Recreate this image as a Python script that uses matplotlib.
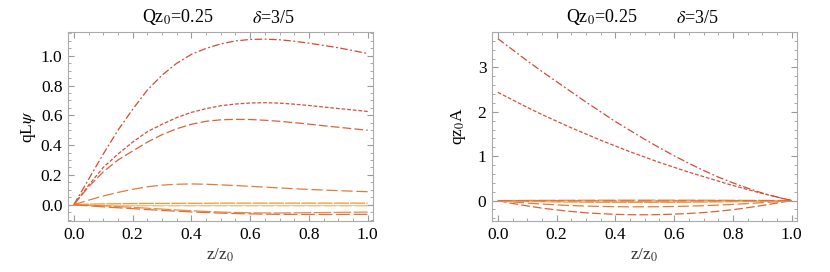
import numpy as np
import matplotlib.pyplot as plt
from matplotlib.ticker import MultipleLocator

plt.rcParams['font.family'] = ['Liberation Serif', 'DejaVu Serif']
plt.rcParams['mathtext.fontset'] = 'stix'

# sample points along z/z0
z = [0.0, 0.05, 0.1, 0.15, 0.2, 0.25, 0.3, 0.35, 0.4, 0.45, 0.5,
     0.55, 0.6, 0.65, 0.7, 0.75, 0.8, 0.85, 0.9, 0.95, 1.0]

# left panel: q L psi
psi_1 = [0.0, 0.17, 0.34, 0.50, 0.64, 0.77, 0.87, 0.95, 1.01, 1.05, 1.08,
         1.1, 1.11, 1.112, 1.108, 1.098, 1.085, 1.07, 1.054, 1.035, 1.015]
psi_2 = [0.0, 0.13, 0.25, 0.34, 0.42, 0.49, 0.54, 0.585, 0.62, 0.645, 0.665,
         0.676, 0.683, 0.685, 0.682, 0.675, 0.666, 0.656, 0.646, 0.636, 0.626]
psi_3 = [0.0, 0.12, 0.22, 0.30, 0.36, 0.42, 0.47, 0.51, 0.54, 0.56, 0.57,
         0.573, 0.572, 0.567, 0.56, 0.551, 0.541, 0.53, 0.52, 0.51, 0.50]
psi_4 = [0.0, 0.03, 0.058, 0.082, 0.103, 0.12, 0.131, 0.137, 0.139, 0.137, 0.133,
         0.128, 0.123, 0.118, 0.112, 0.107, 0.102, 0.098, 0.094, 0.09, 0.087]
psi_5 = [0.0, 0.003, 0.005, 0.006, 0.007, 0.008, 0.008, 0.009, 0.009, 0.009, 0.01,
         0.01, 0.01, 0.01, 0.01, 0.01, 0.01, 0.01, 0.01, 0.01, 0.01]
psi_6 = [0.0, -0.003, -0.005, -0.006, -0.007, -0.008, -0.008, -0.008, -0.008, -0.008, -0.008,
         -0.008, -0.008, -0.008, -0.008, -0.008, -0.008, -0.008, -0.008, -0.008, -0.008]
psi_7 = [0.0, -0.004, -0.008, -0.013, -0.018, -0.024, -0.03, -0.036, -0.041, -0.046, -0.05,
         -0.053, -0.055, -0.056, -0.056, -0.055, -0.054, -0.053, -0.052, -0.051, -0.05]
psi_8 = [0.0, -0.008, -0.015, -0.021, -0.027, -0.033, -0.039, -0.044, -0.049, -0.053, -0.057,
         -0.06, -0.062, -0.064, -0.065, -0.066, -0.066, -0.066, -0.066, -0.065, -0.065]
psi_all = [psi_1, psi_2, psi_3, psi_4, psi_5, psi_6, psi_7, psi_8]

# right panel: q z0 A
A_1 = [3.65, 3.40, 3.15, 2.91, 2.68, 2.45, 2.22, 2.00, 1.78, 1.58, 1.38,
       1.19, 1.01, 0.84, 0.68, 0.53, 0.40, 0.28, 0.17, 0.08, 0.0]
A_2 = [2.44, 2.27, 2.10, 1.94, 1.79, 1.64, 1.50, 1.36, 1.23, 1.10, 0.98,
       0.86, 0.75, 0.64, 0.54, 0.44, 0.34, 0.25, 0.16, 0.08, 0.0]
A_3 = [0.0, -0.065, -0.12, -0.17, -0.21, -0.245, -0.275, -0.295, -0.31, -0.318, -0.32,
       -0.316, -0.305, -0.29, -0.27, -0.24, -0.205, -0.16, -0.11, -0.055, 0.0]
A_4 = [0.0, -0.03, -0.055, -0.078, -0.097, -0.112, -0.124, -0.132, -0.137, -0.14, -0.14,
       -0.138, -0.133, -0.125, -0.115, -0.102, -0.086, -0.067, -0.046, -0.024, 0.0]
A_5 = [0.0, -0.01, -0.018, -0.024, -0.029, -0.033, -0.036, -0.038, -0.039, -0.04, -0.04,
       -0.039, -0.038, -0.036, -0.033, -0.029, -0.024, -0.018, -0.012, -0.006, 0.0]
A_6 = [0.0, -0.004, -0.008, -0.011, -0.014, -0.016, -0.018, -0.019, -0.02, -0.02, -0.02,
       -0.02, -0.019, -0.018, -0.016, -0.014, -0.012, -0.009, -0.006, -0.003, 0.0]
A_7 = [0.0, 0.002, 0.004, 0.006, 0.007, 0.008, 0.009, 0.01, 0.01, 0.011, 0.011,
       0.011, 0.01, 0.01, 0.009, 0.008, 0.007, 0.005, 0.004, 0.002, 0.0]
A_8 = [0.0, -0.001, -0.002, -0.003, -0.004, -0.005, -0.006, -0.006, -0.007, -0.007, -0.007,
       -0.007, -0.007, -0.006, -0.006, -0.005, -0.004, -0.003, -0.002, -0.001, 0.0]
A_all = [A_1, A_2, A_3, A_4, A_5, A_6, A_7, A_8]

colors = ['#d64a33', '#d5503a', '#dc6238', '#e27a40', '#f29a22', '#f4bf86', '#e98c40', '#e26e38']
dashes = [(6, 2, 1.5, 2), (3, 1.5), (7, 2.5), (9, 3), (12, 1), (10, 2.5), (14, 2), (11, 3)]

fig = plt.figure(figsize=(8.3, 2.72), dpi=100)
ax1 = fig.add_axes([68/830, 1-221/272, 305/830, 189/272])
ax2 = fig.add_axes([492/830, 1-221/272, 305/830, 189/272])

xt = [0.0, 0.2, 0.4, 0.6, 0.8, 1.0]
for ax, data in [(ax1, psi_all), (ax2, A_all)]:
    ax.axhline(0, color='#cccccc', lw=0.8, zorder=0)
    for ys, c, d in zip(data, colors, dashes):
        ax.plot(z, ys, color=c, lw=0.9, dashes=d)
    ax.set_xlim(-0.02, 1.018)
    ax.set_xticks(xt)
    ax.set_xticklabels(['%.1f' % v for v in xt])
    ax.xaxis.set_minor_locator(MultipleLocator(0.05))
    ax.tick_params(which='both', direction='in', color='#999999', labelsize=12.5,
                   top=True, right=True, pad=4)
    ax.tick_params(which='major', length=4)
    ax.tick_params(which='minor', length=2)
    for s in ax.spines.values():
        s.set_color('#aaaaaa')
    ax.set_xlabel('z/z$_0$', fontsize=12.5, color='#333333', labelpad=3)
    ax.text(0.36, 1.025, 'Qz$_0$=0.25', transform=ax.transAxes,
            ha='center', va='bottom', fontsize=13)
    ax.text(0.675, 1.025, '$\\delta$=3/5', transform=ax.transAxes,
            ha='center', va='bottom', fontsize=13)

ax1.set_ylim(-0.11, 1.16)
yt = [0.0, 0.2, 0.4, 0.6, 0.8, 1.0]
ax1.set_yticks(yt)
ax1.set_yticklabels(['%.1f' % v for v in yt])
ax1.yaxis.set_minor_locator(MultipleLocator(0.05))
ax1.set_ylabel('qL$\\psi$', fontsize=12.5, labelpad=2)

ax2.set_ylim(-0.46, 3.8)
ax2.set_yticks([0, 1, 2, 3])
ax2.yaxis.set_minor_locator(MultipleLocator(0.2))
ax2.set_ylabel('qz$_0$A', fontsize=12.5, labelpad=7)

fig.savefig('out.png', dpi=100)
